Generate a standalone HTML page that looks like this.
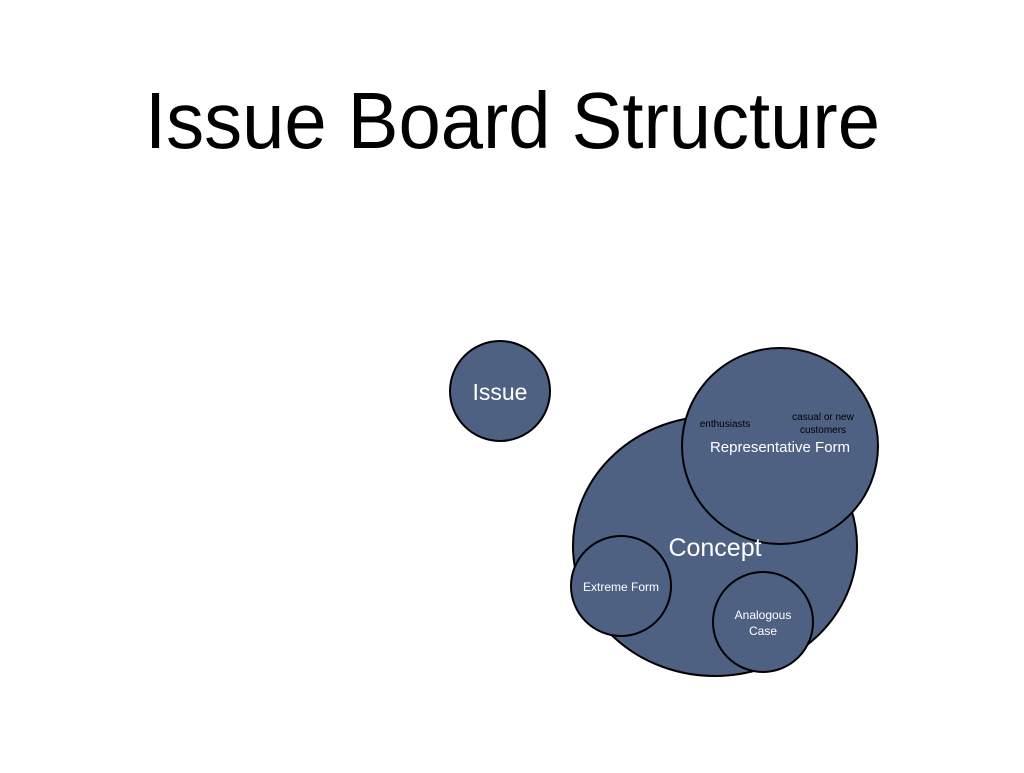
<!DOCTYPE html>
<html><head><style>html,body{margin:0;padding:0;background:#fff;}</style></head>
<body>
<svg width="1024" height="768" viewBox="0 0 1024 768" xmlns="http://www.w3.org/2000/svg" font-family="Liberation Sans, sans-serif">
<rect width="1024" height="768" fill="#fff"/>
<text x="145" y="148" font-size="80" textLength="735" lengthAdjust="spacingAndGlyphs" fill="#000">Issue Board Structure</text>
<g fill="#4f6183" stroke="#000" stroke-width="2">
<circle cx="500" cy="391" r="50"/>
<ellipse cx="715" cy="546" rx="142" ry="130"/>
<circle cx="780" cy="446" r="98"/>
<circle cx="621" cy="586" r="50"/>
<circle cx="763" cy="622" r="50"/>
</g>
<g fill="#fff" text-anchor="middle">
<text x="500" y="400" font-size="23">Issue</text>
<text x="715" y="556" font-size="25">Concept</text>
<text x="780" y="452" font-size="15">Representative Form</text>
<text x="621" y="591" font-size="12">Extreme Form</text>
<text x="763" y="619" font-size="12">Analogous</text>
<text x="763" y="635" font-size="12">Case</text>
</g>
<g fill="#000" text-anchor="middle" font-size="10">
<text x="725" y="427">enthusiasts</text>
<text x="823" y="420">casual or new</text>
<text x="823" y="433">customers</text>
</g>
</svg>
</body></html>
